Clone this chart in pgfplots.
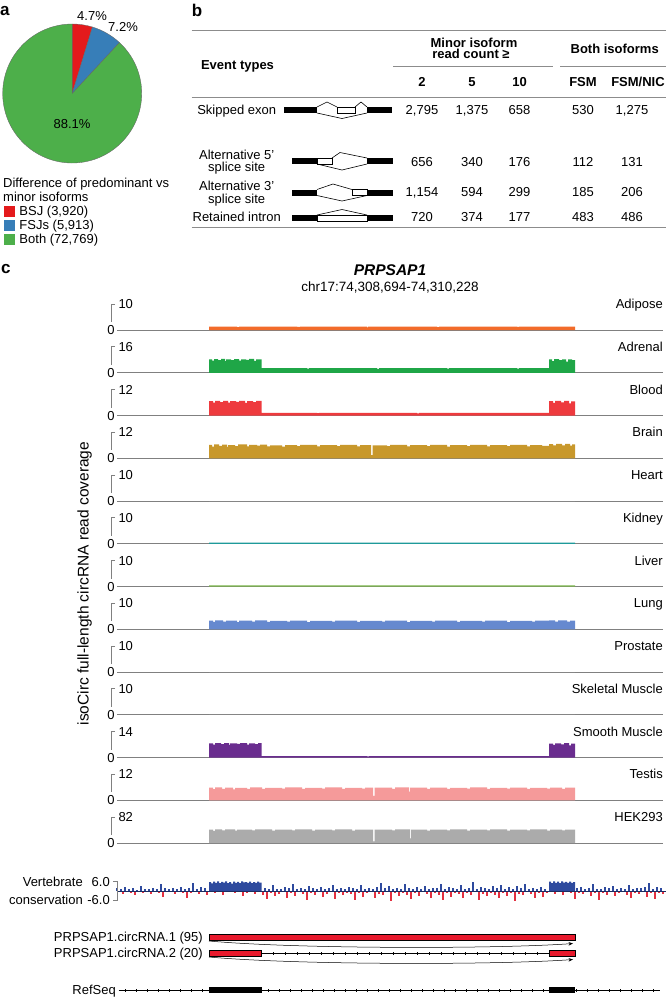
\documentclass[border=0pt]{standalone}
\usepackage{pgfplots}
\pgfplotsset{compat=1.18}
\usepackage{fontspec}
\setmainfont{Liberation Sans}
\usetikzlibrary{arrows.meta}
\definecolor{pRed}{HTML}{E41A1C}
\definecolor{pBlue}{HTML}{377EB8}
\definecolor{pGreen}{HTML}{4DAF4A}
\definecolor{rule}{HTML}{8C8C8C}
\definecolor{basegray}{HTML}{808080}
\definecolor{cAdipose}{HTML}{F26B2A}
\definecolor{cAdrenal}{HTML}{1FA647}
\definecolor{cBlood}{HTML}{EE3A3E}
\definecolor{cBrain}{HTML}{C8982C}
\definecolor{cKidney}{HTML}{1E9A9A}
\definecolor{cLiver}{HTML}{7AB648}
\definecolor{cLung}{HTML}{6689CF}
\definecolor{cSmooth}{HTML}{6A2D8F}
\definecolor{cTestis}{HTML}{F59A9A}
\definecolor{cHEK}{HTML}{ABABAB}
\definecolor{consBlue}{HTML}{2E4A9E}
\definecolor{consRed}{HTML}{E33040}
\definecolor{cRNA}{HTML}{E8192C}
\tikzset{
  lab/.style={inner sep=0pt, font=\fontsize{13}{15}\selectfont, text height=9.3pt, text depth=0pt},
  labb/.style={lab, font=\fontsize{13}{15}\selectfont\bfseries},
  panel/.style={inner sep=0pt, font=\fontsize{17}{20}\selectfont\bfseries, anchor=base west},
}
\pgfplotsset{
  trk/.style={width=546pt, height=26pt, scale only axis, xmin=0, xmax=546, ymin=0,
    hide axis, clip=false, anchor=south west},
}
\newcommand{\track}[5]{%
\begin{axis}[trk, at={(117pt,-#1pt)}, ymax=#2]
\draw[basegray, line width=0.9pt] (rel axis cs:0,0) -- (rel axis cs:1,0);
\addplot[fill=#4, draw=none, const plot] coordinates {#5};
\draw[basegray, line width=0.8pt] ([xshift=-2pt]rel axis cs:0,1) -- ([xshift=-5.3pt]rel axis cs:0,1) -- ([xshift=-5.3pt,yshift=8pt]rel axis cs:0,0);
\node[lab, anchor=west] at ([xshift=1.3pt]rel axis cs:0,1) {#2};
\node[lab, anchor=center] at ([xshift=-6pt]rel axis cs:0,0) {0};
\node[lab, anchor=east] at (rel axis cs:1,1) {#3};
\end{axis}}
\begin{document}
\begin{tikzpicture}[x=1pt,y=1pt]
\useasboundingbox (0,0) rectangle (666,-997);
% ---------------- panel a ----------------
\node[panel] at (0,-15) {a};
\begin{axis}[at={(72.2pt,-93.5pt)}, anchor=center, width=139pt, height=139pt, scale only axis,
  xmin=-69.5, xmax=69.5, ymin=-69.5, ymax=69.5, hide axis, clip=false]
\fill[pRed, draw=black!60, line width=0.35pt] (axis cs:0,0) -- ++(90:69.5pt) arc[start angle=90, end angle={90-3.6*4.7}, radius=69.5pt] -- cycle;
\fill[pBlue, draw=black!60, line width=0.35pt] (axis cs:0,0) -- ++({90-3.6*4.7}:69.5pt) arc[start angle={90-3.6*4.7}, end angle={90-3.6*11.9}, radius=69.5pt] -- cycle;
\fill[pGreen, draw=black!60, line width=0.35pt] (axis cs:0,0) -- ++({90-3.6*11.9}:69.5pt) arc[start angle={90-3.6*11.9}, end angle=-270, radius=69.5pt] -- cycle;
\end{axis}
\node[lab] at (92,-16) {4.7\%};
\node[lab] at (123,-27) {7.2\%};
\node[lab] at (72,-124) {88.1\%};
\node[lab, anchor=west] at (3,-183) {Difference of predominant vs};
\node[lab, anchor=west] at (3,-197) {minor isoforms};
\fill[pRed] (4,-205.5) rectangle (15,-216.5);
\fill[pBlue] (4,-219.5) rectangle (15,-230.5);
\fill[pGreen] (4,-233.5) rectangle (15,-244.5);
\node[lab, anchor=west] at (19.3,-211) {BSJ (3,920)};
\node[lab, anchor=west] at (19.3,-225) {FSJs (5,913)};
\node[lab, anchor=west] at (19.3,-239) {Both (72,769)};
% ---------------- panel b ----------------
\node[panel] at (191.7,-16.7) {b};
\draw[rule, line width=1.1pt] (191.7,-30.7) -- (666,-30.7);
\draw[rule, line width=1.1pt] (393.3,-66.7) -- (553.3,-66.7);
\draw[rule, line width=1.1pt] (560,-66.7) -- (666,-66.7);
\draw[rule, line width=1.1pt] (191.7,-97.3) -- (666,-97.3);
\draw[rule, line width=1.1pt] (191.7,-227.7) -- (666,-227.7);
\node[labb] at (474,-42.7) {Minor isoform};
\node[labb] at (471,-54.3) {read count ≥};
\node[labb] at (614.7,-48.7) {Both isoforms};
\node[labb] at (237.5,-65.3) {Event types};
\node[labb] at (422,-81.7) {2};
\node[labb] at (472,-81.7) {5};
\node[labb] at (519.5,-81.7) {10};
\node[labb] at (583,-81.7) {FSM};
\node[labb] at (638,-81.7) {FSM/NIC};
\node[lab] at (236.7,-110) {Skipped exon};
\node[lab] at (236.7,-155) {Alternative 5’};
\node[lab] at (236.7,-167.3) {splice site};
\node[lab] at (236.7,-186) {Alternative 3’};
\node[lab] at (236.7,-199) {splice site};
\node[lab] at (236.7,-216.7) {Retained intron};
\foreach \y/\a/\b/\c/\d/\e in {110/{2,795}/{1,375}/658/530/{1,275}, 161.7/656/340/176/112/131, 191.7/{1,154}/594/299/185/206, 216.7/720/374/177/483/486}{
  \node[lab] at (422,-\y) {\a};
  \node[lab] at (472,-\y) {\b};
  \node[lab] at (519.5,-\y) {\c};
  \node[lab] at (583,-\y) {\d};
  \node[lab] at (632,-\y) {\e};
}
% diagrams
\begin{scope}[line width=0.6pt]
\fill[black] (284,-107) rectangle (317,-113);
\fill[black] (367,-107) rectangle (392,-113);
\draw[fill=white] (337,-107) rectangle (355,-113);
\draw (317,-107) -- (327,-102) -- (337,-107);
\draw (355,-107) -- (361,-102) -- (367,-107);
\draw (317,-113) -- (342,-118.5) -- (367,-113);
\fill[black] (292,-158) rectangle (317,-164);
\fill[black] (367,-158) rectangle (393,-164);
\draw[fill=white] (317,-158) rectangle (332,-164);
\draw (332,-158) -- (340,-152.5) -- (367,-158);
\draw (317,-164) -- (342,-170) -- (367,-164);
\fill[black] (292,-189.5) rectangle (317,-195.5);
\fill[black] (367,-189.5) rectangle (393,-195.5);
\draw[fill=white] (352,-189.5) rectangle (367,-195.5);
\draw (317,-189.5) -- (333,-184) -- (352,-189.5);
\draw (317,-195.5) -- (342,-201) -- (367,-195.5);
\fill[black] (292,-215) rectangle (317,-221);
\fill[black] (367,-215) rectangle (393,-221);
\draw[fill=white] (317,-215) rectangle (367,-221);
\draw (317,-215) -- (342,-209.5) -- (367,-215);
\end{scope}
% ---------------- panel c ----------------
\node[panel] at (1,-273.3) {c};
\node[inner sep=0pt, font=\fontsize{15.5}{18}\selectfont\bfseries\itshape, text height=11pt, text depth=0pt] at (390,-270) {PRPSAP1};
\node[lab, font=\fontsize{13.5}{16}\selectfont] at (390,-286.7) {chr17:74,308,694-74,310,228};
\node[lab, font=\fontsize{15.5}{18}\selectfont, text height=11pt, rotate=90] at (83,-583.5) {isoCirc full-length circRNA read coverage};
\track{330}{10}{Adipose}{cAdipose}{(92,0)(92,1.3)(120,1.1)(122,1.3)(180,1.2)(183,1.3)(250,1.0)(251,1.3)(320,1.1)(322,1.3)(400,1.2)(402,1.3)(458,1.3)(458,0)}
\track{372.75}{16}{Adrenal}{cAdrenal}{(92,0)(92,8.3)(95,7.5)(97,8.4)(101,7.8)(104,8.5)(108,7.1)(109,8.2)(114,7.7)(117,8.4)(122,7.4)(124,8.3)(129,7.9)(132,8.5)(137,7.3)(139,8.2)(144.5,2.8)(190,2.5)(192,2.8)(260,2.4)(262,2.8)(330,2.5)(332,2.8)(400,2.6)(402,2.8)(432,8.2)(435,7.2)(437,8.4)(442,7.7)(445,8.3)(449,6.9)(451,8.2)(455,7.8)(458,7.8)(458,0)}
\track{415.5}{12}{Blood}{cBlood}{(92,0)(92,6.6)(96,5.9)(98,6.7)(103,6.2)(106,6.8)(111,6.0)(113,6.6)(119,6.3)(122,6.7)(128,5.8)(130,6.6)(136,6.2)(139,6.7)(144.5,1.2)(200,1.1)(202,1.2)(300,1.0)(302,1.2)(432,6.6)(436,5.8)(438,6.7)(444,6.1)(447,6.7)(452,5.6)(454,6.5)(458,6.5)(458,0)}
\track{458.25}{12}{Brain}{cBrain}{(92,0)(92,6.2)(95,5.4)(97,6.4)(102,5.7)(105,6.3)(110,5.2)(111,6.1)(118,5.6)(121,6.4)(130,5.5)(132,6.2)(140,5.8)(143,6.3)(150,5.5)(153,6.0)(165,5.4)(168,6.1)(180,5.6)(183,6.2)(200,5.5)(203,6.1)(220,5.6)(223,6.2)(240,5.5)(243,6.1)(254,1.5)(255.5,6.0)(270,5.6)(273,6.2)(290,5.5)(293,6.1)(310,5.6)(313,6.2)(330,5.4)(333,6.1)(350,5.6)(353,6.2)(370,5.5)(373,6.1)(390,5.6)(393,6.2)(410,5.5)(413,6.1)(425,5.7)(432,6.5)(436,5.9)(439,6.6)(445,6.0)(448,6.6)(453,5.8)(455,6.4)(458,6.4)(458,0)}
\track{501}{10}{Heart}{cHEK}{(92,0)(458,0)}
\track{543.75}{10}{Kidney}{cKidney}{(92,0)(92,0.4)(458,0.4)(458,0)}
\track{586.5}{10}{Liver}{cLiver}{(92,0)(92,0.4)(458,0.4)(458,0)}
\track{629.25}{10}{Lung}{cLung}{(92,0)(92,3.3)(96,2.8)(98,3.4)(106,2.9)(109,3.3)(120,2.7)(122,3.3)(135,2.9)(138,3.4)(150,2.8)(153,3.2)(170,2.9)(173,3.3)(190,2.7)(193,3.2)(215,2.9)(218,3.3)(240,2.8)(243,3.2)(265,2.9)(268,3.3)(290,2.7)(293,3.2)(315,2.9)(318,3.3)(340,2.8)(343,3.2)(365,2.9)(368,3.3)(390,2.7)(393,3.2)(415,2.9)(418,3.3)(432,3.4)(438,2.9)(441,3.4)(450,2.9)(453,3.3)(458,3.3)(458,0)}
\track{672}{10}{Prostate}{cHEK}{(92,0)(458,0)}
\track{714.75}{10}{Skeletal Muscle}{cHEK}{(92,0)(458,0)}
\track{757.5}{14}{Smooth Muscle}{cSmooth}{(92,0)(92,7.6)(96,6.9)(98,7.7)(104,7.2)(107,7.8)(112,6.8)(113,7.6)(120,7.3)(123,7.8)(130,6.9)(132,7.6)(138,7.2)(141,7.7)(144.5,0.7)(250,0.6)(252,0.7)(432,7.5)(436,6.8)(438,7.6)(444,7.1)(447,7.7)(452,6.6)(454,7.5)(458,7.5)(458,0)}
\track{800.25}{12}{Testis}{cTestis}{(92,0)(92,5.8)(96,5.1)(98,5.9)(105,5.3)(108,5.8)(116,5.0)(118,5.7)(130,5.3)(133,5.9)(145,5.2)(148,5.7)(165,5.4)(168,5.9)(185,5.2)(188,5.7)(205,5.4)(208,5.9)(225,5.2)(228,5.7)(245,5.4)(248,5.8)(256,2.0)(257.5,5.8)(275,5.3)(278,5.9)(292,4.0)(293,5.8)(310,5.3)(313,5.8)(330,5.2)(333,5.7)(350,5.4)(353,5.9)(370,5.2)(373,5.7)(390,5.4)(393,5.8)(410,5.2)(413,5.7)(430,5.4)(433,5.8)(445,5.3)(448,5.8)(458,5.8)(458,0)}
\track{843}{82}{HEK293}{cHEK}{(92,0)(92,42)(96,38)(98,43)(105,40)(108,43)(118,39)(120,42)(135,40)(138,43)(155,39)(158,42)(175,40)(178,43)(195,39)(198,42)(215,40)(218,43)(235,39)(238,42)(256,5)(257.5,42)(275,40)(278,43)(293,15)(294,42)(310,39)(313,42)(330,40)(333,43)(350,39)(353,42)(370,40)(373,43)(390,39)(393,42)(410,40)(413,43)(430,39)(433,42)(445,40)(448,42.5)(458,42.5)(458,0)}
% ---------------- conservation ----------------
\node[lab, anchor=east] at (83,-881.7) {Vertebrate};
\node[lab, anchor=east] at (83,-900) {conservation};
\begin{axis}[at={(117pt,-900pt)}, anchor=south west, width=549pt, height=18.3pt, scale only axis,
  xmin=0, xmax=549, ymin=-6, ymax=6, hide axis, clip=false]
\addplot[ycomb, draw=consRed, color=consRed, line width=1.1pt, no markers] coordinates {(2,-0.9)(6,-1.8)(10,-0.6)(14,-1.2)(18,-3.0)(22,-0.8)(26,-1.5)(30,-0.9)(34,-2.2)(38,-0.6)(42,-1.4)(46,-3.9)(50,-1.0)(54,-0.8)(58,-2.0)(62,-0.9)(66,-1.5)(70,-4.8)(74,-1.2)(78,-0.8)(82,-2.1)(86,-1.0)(90,-3.0)(94,-0.9)(98,-1.5)(102,-0.8)(106,-2.4)(110,-1.0)(114,-0.6)(118,-1.6)(122,-0.9)(126,-3.3)(130,-1.2)(134,-0.8)(138,-2.0)(142,-1.0)(146,-2.8)(150,-5.4)(154,-1.2)(158,-3.6)(162,-1.8)(166,-0.9)(170,-4.5)(174,-1.5)(178,-3.3)(182,-1.0)(186,-2.2)(190,-6.0)(194,-1.4)(198,-2.7)(202,-0.9)(206,-4.2)(210,-1.8)(214,-1.0)(218,-5.1)(222,-1.6)(226,-3.0)(230,-1.2)(234,-2.1)(238,-5.7)(242,-1.4)(246,-3.8)(250,-1.5)(254,-0.9)(258,-4.6)(262,-2.0)(266,-3.0)(270,-1.0)(274,-6.5)(278,-1.6)(282,-3.4)(286,-1.2)(290,-2.4)(294,-5.2)(298,-1.5)(302,-3.2)(306,-1.0)(310,-2.1)(314,-4.5)(318,-1.4)(322,-2.7)(326,-6.2)(330,-1.6)(334,-3.9)(338,-1.2)(342,-2.2)(346,-5.0)(350,-1.5)(354,-3.0)(358,-1.0)(362,-5.8)(366,-1.8)(370,-3.6)(374,-1.4)(378,-2.4)(382,-4.8)(386,-1.5)(390,-3.3)(394,-1.2)(398,-6.5)(402,-2.0)(406,-3.0)(410,-1.0)(414,-2.2)(418,-4.5)(422,-1.6)(426,-3.8)(430,-1.5)(434,-0.9)(438,-1.8)(442,-0.8)(446,-3.0)(450,-1.0)(454,-1.5)(458,-5.4)(462,-1.2)(466,-2.2)(470,-0.9)(474,-3.3)(478,-1.5)(482,-6.0)(486,-1.2)(490,-2.4)(494,-0.9)(498,-3.6)(502,-1.5)(506,-1.0)(510,-2.7)(514,-4.5)(518,-1.4)(522,-2.1)(526,-0.9)(530,-3.9)(534,-1.6)(538,-5.1)(542,-1.2)(546,-1.8)};
\addplot[ycomb, draw=consBlue, color=consBlue, line width=1.1pt, no markers] coordinates {(0,1.6)(4,1.0)(8,2.4)(12,1.2)(16,1.8)(20,0.8)(24,3.0)(28,1.4)(32,1.0)(36,2.2)(40,1.2)(44,4.4)(48,1.6)(52,1.0)(56,2.0)(60,1.4)(64,2.8)(68,1.2)(72,1.8)(76,5.0)(80,1.0)(84,2.4)(88,1.6)(148,2.0)(152,1.2)(156,3.6)(160,1.4)(164,1.0)(168,2.6)(172,1.6)(176,4.8)(180,1.2)(184,2.0)(188,1.0)(192,3.2)(196,1.6)(200,1.2)(204,2.4)(208,1.0)(212,1.8)(216,4.0)(220,1.4)(224,2.2)(228,1.2)(232,2.8)(236,1.6)(240,1.0)(244,3.8)(248,1.4)(252,2.0)(256,1.2)(260,2.6)(264,5.2)(268,1.6)(272,3.0)(276,1.2)(280,2.2)(284,1.4)(288,4.2)(292,1.8)(296,1.0)(300,2.4)(304,1.4)(308,3.4)(312,1.2)(316,2.0)(320,1.6)(324,4.6)(328,1.2)(332,2.8)(336,1.8)(340,1.0)(344,3.6)(348,1.4)(352,2.2)(356,5.6)(360,1.2)(364,2.6)(368,1.6)(372,1.0)(376,3.2)(380,1.8)(384,4.0)(388,1.2)(392,2.4)(396,1.4)(400,3.0)(404,1.6)(408,4.8)(412,1.2)(416,2.0)(420,1.4)(424,2.6)(428,1.0)(460,1.8)(464,2.8)(468,1.2)(472,2.0)(476,4.4)(480,1.4)(484,1.0)(488,2.4)(492,1.6)(496,3.2)(500,1.2)(504,2.2)(508,1.4)(512,3.8)(516,1.0)(520,2.0)(524,1.6)(528,2.8)(532,5.2)(536,1.4)(540,2.4)(544,1.8)};
\addplot[fill=consBlue, draw=none, const plot] coordinates {(92,0)(92,5.8)(94,4.9)(96,6.1)(98,5.2)(100,6.2)(102,5.0)(104,5.9)(106,5.4)(108,6.3)(110,5.1)(112,5.8)(114,4.8)(116,6.1)(118,5.3)(120,5.9)(122,5.0)(124,6.2)(126,5.5)(128,5.8)(130,5.2)(132,6.0)(134,5.0)(136,5.7)(138,5.3)(140,6.0)(142,5.4)(144.5,5.4)(144.5,0)};
\addplot[fill=consBlue, draw=none, const plot] coordinates {(432,0)(432,6.0)(434,5.1)(436,6.2)(438,5.3)(440,6.0)(442,5.0)(444,6.2)(446,5.4)(448,5.9)(450,5.2)(452,6.1)(454,5.3)(456,5.8)(458,5.8)(458,0)};
\draw[consBlue!60!black, line width=0.7pt] (axis cs:0,0) -- (axis cs:549,0);
\draw[basegray, line width=0.8pt] ([xshift=-4pt]rel axis cs:0,0) -- (rel axis cs:0,0) -- (rel axis cs:0,1) -- ([xshift=-4pt]rel axis cs:0,1);
\node[lab, anchor=east] at ([xshift=-7pt]rel axis cs:0,1) {6.0};
\node[lab, anchor=east] at ([xshift=-7pt]rel axis cs:0,0) {-6.0};
\end{axis}
% ---------------- gene models ----------------
\node[lab, anchor=east] at (203,-937) {PRPSAP1.circRNA.1 (95)};
\node[lab, anchor=east] at (203,-953.3) {PRPSAP1.circRNA.2 (20)};
\node[lab, anchor=east] at (116,-990) {RefSeq};
\begin{axis}[at={(117pt,-995pt)}, anchor=south west, width=546pt, height=70pt, scale only axis,
  xmin=0, xmax=546, ymin=0, ymax=70, hide axis, clip=false]
\draw[fill=cRNA, line width=0.5pt] (axis cs:92,55) rectangle (axis cs:458,61);
\draw[line width=0.5pt, -{Stealth[length=4.5pt,width=3.5pt]}] (axis cs:92,54) .. controls (axis cs:180,46) and (axis cs:380,46) .. (axis cs:456,51.5);
\draw[line width=0.5pt] (axis cs:144.5,41.7) -- (axis cs:432,41.7);
\pgfplotsinvokeforeach{156,168,...,420}{\draw[line width=0.5pt] (axis cs:#1,40.2) -- (axis cs:#1,43.2);}
\draw[fill=cRNA, line width=0.5pt] (axis cs:92,39) rectangle (axis cs:144.5,44.3);
\draw[fill=cRNA, line width=0.5pt] (axis cs:432,39) rectangle (axis cs:458,44.3);
\draw[line width=0.5pt, -{Stealth[length=4.5pt,width=3.5pt]}] (axis cs:92,38) .. controls (axis cs:180,30) and (axis cs:380,30) .. (axis cs:456,35.5);
\draw[line width=0.5pt] (axis cs:1.7,5) -- (axis cs:543,5);
\pgfplotsinvokeforeach{8,19,...,536}{\draw[line width=0.5pt] (axis cs:#1,3.5) -- (axis cs:#1,6.5);}
\fill[black] (axis cs:92,2) rectangle (axis cs:144.5,8);
\fill[black] (axis cs:432,2) rectangle (axis cs:458,8);
\end{axis}
\end{tikzpicture}
\end{document}
